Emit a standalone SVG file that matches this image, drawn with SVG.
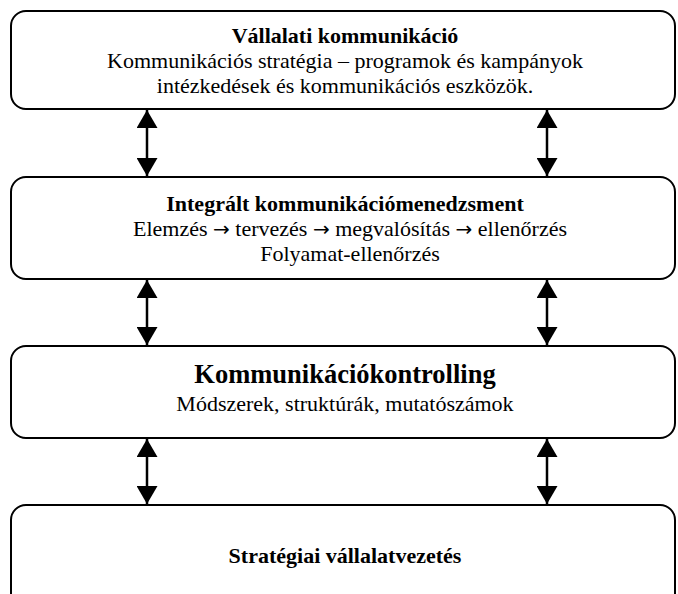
<svg xmlns="http://www.w3.org/2000/svg" width="678" height="594" viewBox="0 0 678 594">
<defs>
<style>
.box{fill:#fff;stroke:#000;stroke-width:2}
.t{font-family:"Liberation Serif","Times New Roman",serif;text-anchor:middle;fill:#000;font-size:22px}
.b{font-weight:bold}
.big{font-weight:bold;font-size:26.5px}
.ar{font-family:"DejaVu Sans",sans-serif;font-size:20px}
.c{stroke:#000;stroke-width:2.5;fill:none;marker-start:url(#ah);marker-end:url(#ah)}
</style>
<marker id="ah" viewBox="0 0 18 21" refX="18" refY="10.5" markerWidth="18" markerHeight="21" markerUnits="userSpaceOnUse" orient="auto-start-reverse">
<path d="M0,0 L18,10.5 L0,21 z" fill="#000"/>
</marker>
</defs>
<rect width="678" height="594" fill="#fff"/>
<g id="connectors">
<line class="c" x1="147" y1="110" x2="147" y2="176"/>
<line class="c" x1="547" y1="110" x2="547" y2="176"/>
<line class="c" x1="147" y1="280" x2="147" y2="345"/>
<line class="c" x1="547" y1="280" x2="547" y2="345"/>
<line class="c" x1="147" y1="439" x2="147" y2="504"/>
<line class="c" x1="547" y1="439" x2="547" y2="504"/>
</g>
<g id="n1">
<rect class="box" x="11" y="11" width="664" height="98" rx="15"/>
<text class="t b" x="345" y="43">Vállalati kommunikáció</text>
<text class="t" x="345" y="68">Kommunikációs stratégia – programok és kampányok</text>
<text class="t" x="345" y="93">intézkedések és kommunikációs eszközök.</text>
</g>
<g id="n2">
<rect class="box" x="11" y="177" width="664" height="102" rx="15"/>
<text class="t b" x="345" y="211">Integrált kommunikációmenedzsment</text>
<text class="t" x="350" y="236">Elemzés <tspan class="ar">→</tspan> tervezés <tspan class="ar">→</tspan> megvalósítás <tspan class="ar">→</tspan> ellenőrzés</text>
<text class="t" x="350" y="261">Folyamat-ellenőrzés</text>
</g>
<g id="n3">
<rect class="box" x="11" y="346" width="664" height="92" rx="15"/>
<text class="t big" x="345" y="383">Kommunikációkontrolling</text>
<text class="t" x="345" y="411">Módszerek, struktúrák, mutatószámok</text>
</g>
<g id="n4">
<rect class="box" x="11" y="505" width="664" height="105" rx="15"/>
<text class="t b" x="345" y="563">Stratégiai vállalatvezetés</text>
</g>
</svg>
